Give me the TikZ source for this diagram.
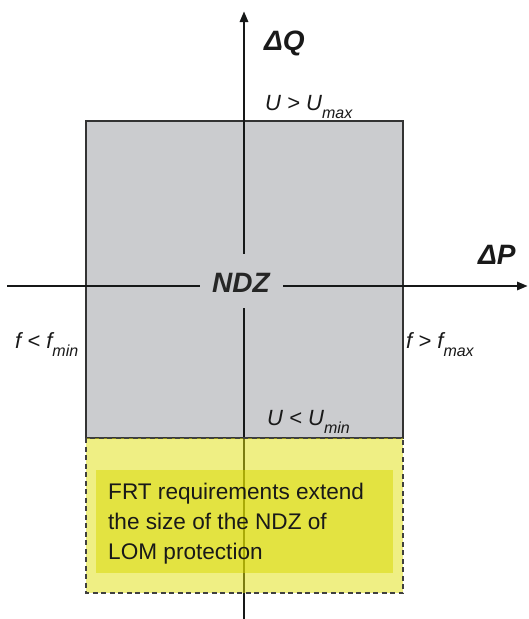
\documentclass[tikz,border=0pt]{standalone}
\usepackage{fontspec}
\setmainfont{Liberation Sans}
\usetikzlibrary{arrows.meta}
\definecolor{ndzgray}{RGB}{203,204,207}
\definecolor{frtyellow}{RGB}{224,224,10}
\definecolor{frtinner}{RGB}{216,216,0}
\definecolor{axisblack}{RGB}{22,24,24}
\tikzset{
    axis/.style={line width=2.8pt, draw=axisblack, -{Triangle[length=11pt, width=8pt]}},
    ndzzone/.style={fill=ndzgray, draw=black!80, line width=1.5pt},
    frtzone/.style={fill=frtyellow, fill opacity=0.5, draw=black!75, line width=2pt, dash pattern=on 5pt off 3.5pt},
    frtnote/.style={fill=frtinner, fill opacity=0.5, draw=none},
    axislabel/.style={font=\fontsize{28}{28}\selectfont\bfseries\itshape, text=black!90, inner sep=0pt, anchor=base west},
    limit/.style={font=\fontsize{22}{22}\selectfont\itshape, text=black!90, inner sep=0pt, anchor=base west}
}
\newcommand{\lowsub}[1]{\raisebox{-8pt}{\fontsize{16}{16}\selectfont #1}}

\begin{document}
\begin{tikzpicture}[x=1pt, y=-1pt]
        \useasboundingbox (0,0) rectangle (529,619);

        % -----------------------------------------------------------------
        % ZONA NDZ
        % -----------------------------------------------------------------
        \draw[ndzzone] (86,121) rectangle (403,438);

        % -----------------------------------------------------------------
        % ASSI
        % -----------------------------------------------------------------
        \coordinate (pwest) at (7,286);
        \coordinate (peast) at (528,286);
        \coordinate (qsouth) at (244,619);
        \coordinate (qnorth) at (244,11);
        \draw[axis] (pwest) -- (peast);
        \draw[axis] (qsouth) -- (qnorth);

        \node[fill=ndzgray, minimum width=83pt, minimum height=54pt, inner sep=0pt,
              text height=22pt, text depth=0pt, text=black!85,
              font=\fontsize{28}{28}\selectfont\bfseries\itshape] (ndz) at (241,281) {NDZ};

        \node[axislabel] (dq) at (264,50) {ΔQ};
        \node[axislabel] (dp) at (478,264) {ΔP};

        % -----------------------------------------------------------------
        % LIMITI
        % -----------------------------------------------------------------
        \node[limit] (umax) at (265,110) {U > U\lowsub{max}};
        \node[limit] (umin) at (267,425) {U < U\lowsub{min}};
        \node[limit] (fmin) at (15,348) {f < f\lowsub{min}};
        \node[limit] (fmax) at (406,348) {f > f\lowsub{max}};

        % -----------------------------------------------------------------
        % ESTENSIONE FRT
        % -----------------------------------------------------------------
        \draw[frtzone] (86,438) rectangle (403,593);
        \fill[frtnote] (96,470) rectangle (393,573);
        \node[anchor=north west, align=left, inner sep=0pt, text=black!90,
              font=\fontsize{22.6}{30}\selectfont] (frt) at (108,483)
              {FRT requirements extend\\the size of the NDZ of\\LOM protection};

\end{tikzpicture}
\end{document}
